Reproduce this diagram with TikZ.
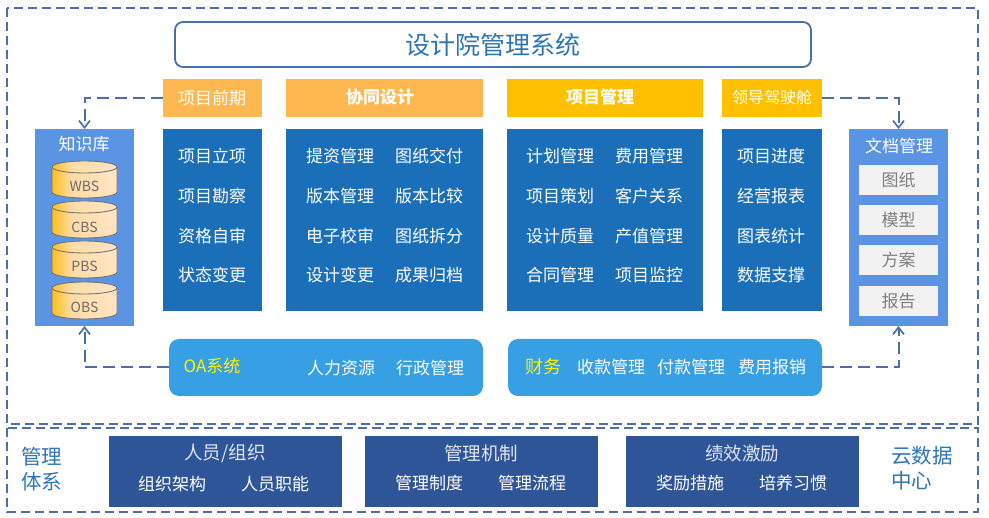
\documentclass[tikz,border=0pt]{standalone}
\usepackage{fontspec}
\setmainfont{Noto Sans CJK SC}
\usetikzlibrary{positioning,arrows.meta,calc}
\definecolor{frameBlue}{HTML}{4A6FAB}
\definecolor{lightOrange}{HTML}{FFB850}
\definecolor{planGold}{HTML}{FFC000}
\definecolor{bodyBlue}{HTML}{1B6FB8}
\definecolor{sideBlue}{HTML}{5C94E4}
\definecolor{skyBlue}{HTML}{379FE4}
\definecolor{navyBlue}{HTML}{2E5597}
\definecolor{labelBlue}{HTML}{2E75B6}
\definecolor{paleGray}{HTML}{F2F2F2}
\definecolor{drumLeft}{HTML}{FFC01A}
\definecolor{drumMid}{HTML}{FFDCA8}
\definecolor{drumRight}{HTML}{FFE5C4}
\pgfdeclarehorizontalshading{drumshade}{100bp}{color(0bp)=(drumLeft); color(25bp)=(drumLeft); color(40bp)=(drumMid); color(75bp)=(drumRight); color(100bp)=(drumRight)}
\newcommand{\pxfont}[1]{\fontsize{#1}{#1}\selectfont}
\tikzset{
  plate/.style={inner sep=0pt, outer sep=0pt, align=center},
  headbox/.style={plate, minimum height=38pt},
  headtext/.style={text=white, inner sep=0pt, font=\pxfont{17}\bfseries},
  bodybox/.style={plate, fill=bodyBlue, minimum height=182pt},
  sidebox/.style={plate, fill=sideBlue, minimum width=99pt, minimum height=197pt},
  whitetext/.style={text=white, font=\pxfont{17}, inner sep=0pt},
  drumtext/.style={inner sep=0pt, text=gray!85!black, font=\pxfont{14}},
  sheet/.style={plate, fill=paleGray, text=gray, minimum width=79pt, minimum height=30pt, font=\pxfont{17}},
  softbox/.style={plate, fill=skyBlue, rounded corners=10pt, minimum width=314pt, minimum height=57pt},
  navybox/.style={plate, fill=navyBlue, minimum width=233pt, minimum height=71pt},
  flowline/.style={draw=frameBlue, line width=2pt, dash pattern=on 12pt off 6pt, -{Straight Barb[length=7pt,width=11pt,line width=1.7pt]}},
  framebox/.style={draw=frameBlue, line width=2pt, dash pattern=on 9pt off 5pt},
  drum/.pic={
    \path[draw=gray!90!black, line width=0.9pt, shading=drumshade]
      (-32.5,-12.5) .. controls (-32.5,-15.8) and (-18,-18.5) .. (0,-18.5)
      .. controls (18,-18.5) and (32.5,-15.8) .. (32.5,-12.5) -- (32.5,12.5)
      .. controls (32.5,15.8) and (18,18.5) .. (0,18.5)
      .. controls (-18,18.5) and (-32.5,15.8) .. (-32.5,12.5) -- cycle;
    \draw[gray!90!black, line width=0.9pt] (-32.5,-12.5) .. controls (-32.5,-9.2) and (-18,-6.5) .. (0,-6.5)
      .. controls (18,-6.5) and (32.5,-9.2) .. (32.5,-12.5);
  },
}
\begin{document}
\begin{tikzpicture}[x=1pt, y=-1pt]
  \useasboundingbox (0,0) rectangle (989,518);
  \fill[white] (0,0) rectangle (989,518);
  % frames
  \draw[framebox] (7,8) rectangle (978,424);
  \draw[framebox] (7,428) rectangle (978,512);
  \node[plate, draw=frameBlue, line width=1.8pt, rounded corners=8pt, minimum width=636pt, minimum height=45pt, text=labelBlue, font=\pxfont{25}] (title) at (493,44.5) {设计院管理系统};
  % header row
  \node[headbox, fill=lightOrange, minimum width=99pt] (qianqi) at (212.5,98) {};
  \node[headbox, fill=lightOrange, minimum width=197pt] (xietong) at (384.5,98) {};
  \node[headbox, fill=planGold, minimum width=196pt] (xiangmu) at (605,98) {};
  \node[headbox, fill=planGold, minimum width=100pt] (lingdao) at (772,98) {};
  \node[whitetext] (qianqiT) at (212,98) {项目前期};
  \node[headtext] (xietongT) at (380,97) {协同设计};
  \node[headtext] (xiangmuT) at (600,97) {项目管理};
  \node[whitetext, font=\pxfont{16}] (lingdaoT) at (772,97) {领导驾驶舱};
  % column bodies
  \node[bodybox, minimum width=99pt] (bodyA) at (212.5,220) {};
  \node[bodybox, minimum width=197pt] (bodyB) at (384.5,220) {};
  \node[bodybox, minimum width=196pt] (bodyC) at (605,220) {};
  \node[bodybox, minimum width=100pt] (bodyD) at (772,220) {};
  \node[whitetext] (a1) at (212,156) {项目立项};
  \node[whitetext] (a2) at (212,196) {项目勘察};
  \node[whitetext] (a3) at (212,236) {资格自审};
  \node[whitetext] (a4) at (212,275) {状态变更};
  \node[whitetext] (b1) at (340,156) {提资管理};
  \node[whitetext] (b2) at (340,196) {版本管理};
  \node[whitetext] (b3) at (340,236) {电子校审};
  \node[whitetext] (b4) at (340,275) {设计变更};
  \node[whitetext] (b5) at (429,156) {图纸交付};
  \node[whitetext] (b6) at (429,196) {版本比较};
  \node[whitetext] (b7) at (429,236) {图纸拆分};
  \node[whitetext] (b8) at (429,275) {成果归档};
  \node[whitetext] (c1) at (560,156) {计划管理};
  \node[whitetext] (c2) at (560,196) {项目策划};
  \node[whitetext] (c3) at (560,236) {设计质量};
  \node[whitetext] (c4) at (560,275) {合同管理};
  \node[whitetext] (c5) at (649,156) {费用管理};
  \node[whitetext] (c6) at (649,196) {客户关系};
  \node[whitetext] (c7) at (649,236) {产值管理};
  \node[whitetext] (c8) at (649,275) {项目监控};
  \node[whitetext] (d1) at (771,156) {项目进度};
  \node[whitetext] (d2) at (771,196) {经营报表};
  \node[whitetext] (d3) at (771,236) {图表统计};
  \node[whitetext] (d4) at (771,275) {数据支撑};
  % knowledge base
  \node[sidebox] (zhishi) at (84.5,227.5) {};
  \node[whitetext] (zhishiT) at (84,144) {知识库};
  \pic at (84.5,179.5) {drum};
  \pic at (84.5,219.5) {drum};
  \pic at (84.5,259.5) {drum};
  \pic at (84.5,300.5) {drum};
  \node[drumtext] (wbsT) at (84.5,186) {WBS};
  \node[drumtext] (cbsT) at (84.5,227) {CBS};
  \node[drumtext] (pbsT) at (84.5,266) {PBS};
  \node[drumtext] (obsT) at (84.5,307) {OBS};
  % documents
  \node[sidebox] (wendang) at (898.5,227.5) {};
  \node[whitetext] (wendangT) at (899,146) {文档管理};
  \node[sheet] (tuzhi) at (898.5,180) {图纸};
  \node[sheet] (moxing) at (898.5,220) {模型};
  \node[sheet] (fangan) at (898.5,260) {方案};
  \node[sheet] (baogao) at (898.5,301) {报告};
  % OA and finance
  \node[softbox] (oa) at (326,367.5) {};
  \node[softbox] (caiwu) at (665,367.5) {};
  \node[inner sep=0pt, text=yellow, font=\pxfont{17}] (oaT) at (212,366) {OA系统};
  \node[whitetext] (oa1) at (341,368) {人力资源};
  \node[whitetext] (oa2) at (430,368) {行政管理};
  \node[inner sep=0pt, text=yellow, font=\pxfont{18}] (caiwuT) at (543,367) {财务};
  \node[whitetext] (cw1) at (611,367) {收款管理};
  \node[whitetext] (cw2) at (691,367) {付款管理};
  \node[whitetext] (cw3) at (772,367) {费用报销};
  % bottom band
  \node[inner sep=0pt, text=labelBlue, font=\pxfont{20.5}, align=left, anchor=west] (guanliL) at (21,469.5) {管理\\[4.5pt]体系};
  \node[navybox] (renyuan) at (225.5,471.5) {};
  \node[navybox] (jizhi) at (481.5,471.5) {};
  \node[navybox] (jixiao) at (742.5,471.5) {};
  \node[inner sep=0pt, text=white!85!navyBlue, font=\pxfont{18.5}] (renyuanT) at (225,453.5) {人员/组织};
  \node[inner sep=0pt, text=white!85!navyBlue, font=\pxfont{18.5}] (jizhiT) at (481,453.5) {管理机制};
  \node[inner sep=0pt, text=white!85!navyBlue, font=\pxfont{18.5}] (jixiaoT) at (742,453.5) {绩效激励};
  \node[whitetext] (r1) at (172,484) {组织架构};
  \node[whitetext] (r2) at (275,484) {人员职能};
  \node[whitetext] (j1) at (429,483) {管理制度};
  \node[whitetext] (j2) at (532,483) {管理流程};
  \node[whitetext] (x1) at (690,483) {奖励措施};
  \node[whitetext] (x2) at (793,483) {培养习惯};
  \node[inner sep=0pt, text=labelBlue, font=\pxfont{20.5}, align=left, anchor=west] (yunL) at (891,468.5) {云数据\\[4.5pt]中心};
  % connectors
  \draw[flowline] (qianqi.west) -| (zhishi.north);
  \draw[flowline] (lingdao.east) -| (wendang.north);
  \draw[flowline] (oa.west) -| (zhishi.south);
  \draw[flowline] (caiwu.east) -| (wendang.south);
\end{tikzpicture}
\end{document}
